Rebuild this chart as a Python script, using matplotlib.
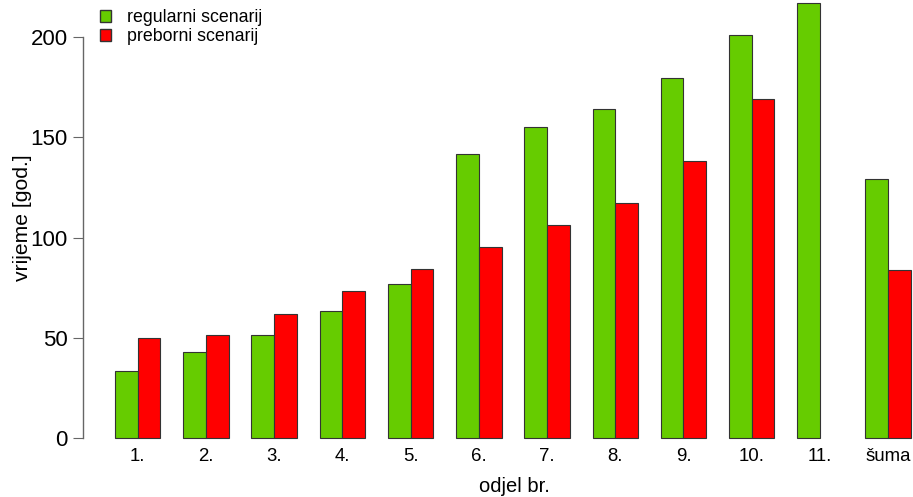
import numpy as np
import matplotlib
matplotlib.use("Agg")
from matplotlib import pyplot as plt
from matplotlib.patches import Patch

plt.rcParams['font.family'] = ['Liberation Sans', 'DejaVu Sans']

categories = ["1.", "2.", "3.", "4.", "5.", "6.", "7.", "8.", "9.", "10.", "11.", "šuma"]
regularni = [33.5, 43, 51.4, 63.4, 77, 141.8, 155.3, 164.3, 179.8, 201.2, 217.2, 129.3]
preborni = [50, 51.4, 62, 73.4, 84.4, 95.4, 106.4, 117.4, 138.3, 169.3, np.nan, 83.9]
yticks = [0, 50, 100, 150, 200]

green = "#66CC00"
red = "#FF0000"
edge = "#333333"

fig = plt.figure(figsize=(9.13, 4.97), dpi=100)
W, H = 913, 497
# axes placed like the R plot region (cropped on top and right)
ax = fig.add_axes([83 / W, 1 - 455 / H, (W - 83) / W, 455 / H])

x = np.arange(len(categories)) * 3 + 1  # R barplot, space=c(0,1)
ax.bar(x, regularni, width=1, align="edge", color=green, edgecolor=edge, linewidth=0.8)
ax.bar(x + 1, preborni, width=1, align="edge", color=red, edgecolor=edge, linewidth=0.8)

ax.set_xlim(-0.4, 36.09)
ax.set_ylim(-8.7, 218.7)

for s in ["top", "right", "bottom"]:
    ax.spines[s].set_visible(False)
ax.spines["left"].set_bounds(0, 200)
ax.spines["left"].set_color("#666666")
ax.spines["left"].set_linewidth(1)

ax.set_yticks(yticks)
ax.set_yticklabels([str(v) for v in yticks], fontsize=16)
ax.tick_params(axis="y", length=7, color="#666666", pad=4)
ax.set_xticks(x + 1)
ax.set_xticklabels(categories, fontsize=13.4)
ax.tick_params(axis="x", length=0, pad=-5)

fig.text(23 / W, 1 - 218 / H, "vrijeme [god.]", fontsize=15.2, rotation=90,
         ha="center", va="center")
fig.text(514 / W, 1 - 487 / H, "odjel br.", fontsize=14.5, ha="center", va="center")

handles = [Patch(facecolor=green, edgecolor=edge), Patch(facecolor=red, edgecolor=edge)]
fig.legend(handles, ["regularni scenarij", "preborni scenarij"], loc="upper left",
           bbox_to_anchor=(100 / W, 1 - 9 / H), frameon=False, fontsize=12.8,
           handlelength=0.62, handleheight=0.62, handletextpad=0.9, labelspacing=0.12,
           borderpad=0, borderaxespad=0)

fig.savefig("out.png", dpi=100)
